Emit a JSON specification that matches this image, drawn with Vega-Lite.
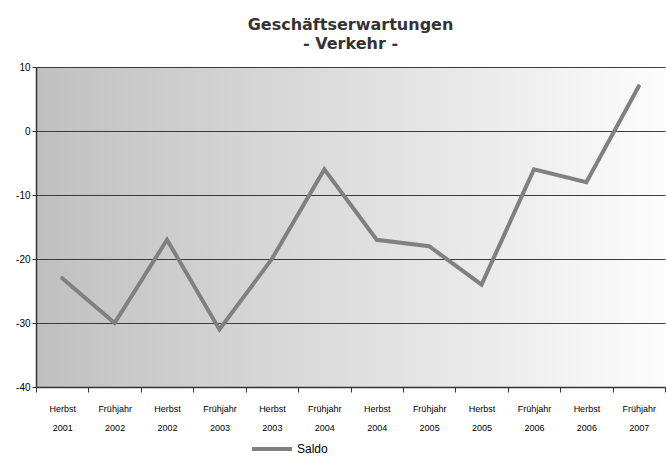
{
  "$schema": "https://vega.github.io/schema/vega-lite/v6.json",
  "width": 629,
  "height": 320,
  "autosize": "none",
  "padding": {"left": 36, "top": 67, "right": 1, "bottom": 77},
  "background": "white",
  "title": {
    "text": ["Geschäftserwartungen", "- Verkehr -"],
    "font": "DejaVu Sans",
    "fontSize": 16,
    "fontWeight": "bold",
    "color": "#333333",
    "anchor": "middle",
    "lineHeight": 19,
    "offset": 10
  },
  "data": {
    "values": [
      {"periode": "Herbst 2001", "saldo": -23, "serie": "Saldo"},
      {"periode": "Frühjahr 2002", "saldo": -30, "serie": "Saldo"},
      {"periode": "Herbst 2002", "saldo": -17, "serie": "Saldo"},
      {"periode": "Frühjahr 2003", "saldo": -31, "serie": "Saldo"},
      {"periode": "Herbst 2003", "saldo": -20, "serie": "Saldo"},
      {"periode": "Frühjahr 2004", "saldo": -6, "serie": "Saldo"},
      {"periode": "Herbst 2004", "saldo": -17, "serie": "Saldo"},
      {"periode": "Frühjahr 2005", "saldo": -18, "serie": "Saldo"},
      {"periode": "Herbst 2005", "saldo": -24, "serie": "Saldo"},
      {"periode": "Frühjahr 2006", "saldo": -6, "serie": "Saldo"},
      {"periode": "Herbst 2006", "saldo": -8, "serie": "Saldo"},
      {"periode": "Frühjahr 2007", "saldo": 7, "serie": "Saldo"}
    ]
  },
  "mark": {"type": "line", "strokeWidth": 4, "strokeCap": "round", "strokeJoin": "miter"},
  "encoding": {
    "x": {
      "field": "periode",
      "type": "nominal",
      "sort": null,
      "scale": {"type": "band", "paddingInner": 0, "paddingOuter": 0},
      "axis": {
        "title": null,
        "labelAngle": 0,
        "labelExpr": "split(datum.label, ' ')",
        "labelLineHeight": 19,
        "labelFont": "Liberation Sans",
        "labelFontSize": 9,
        "labelColor": "#000000",
        "labelPadding": 12,
        "tickBand": "extent",
        "tickSize": 5,
        "tickColor": "#333333",
        "domainColor": "#333333",
        "domainWidth": 1.5,
        "grid": false
      }
    },
    "y": {
      "field": "saldo",
      "type": "quantitative",
      "scale": {"domain": [-40, 10], "nice": false, "zero": false},
      "axis": {
        "title": null,
        "values": [-40, -30, -20, -10, 0, 10],
        "labelExpr": "'' + datum.value",
        "labelFont": "Liberation Sans",
        "labelFontSize": 10,
        "labelColor": "#000000",
        "labelPadding": 2,
        "tickSize": 4,
        "tickColor": "#333333",
        "domainColor": "#333333",
        "domainWidth": 1.5,
        "grid": true,
        "gridColor": "#3a3a3a",
        "gridWidth": 1
      }
    },
    "color": {
      "field": "serie",
      "type": "nominal",
      "scale": {"range": ["#808080"]},
      "legend": {
        "title": null,
        "orient": "none",
        "legendX": 214,
        "legendY": 360,
        "direction": "horizontal",
        "symbolType": "stroke",
        "symbolStrokeWidth": 4,
        "symbolSize": 1600,
        "labelOffset": 3,
        "labelFont": "Liberation Sans",
        "labelFontSize": 12,
        "labelColor": "#000000"
      }
    }
  },
  "config": {
    "view": {
      "stroke": null,
      "fill": {
        "gradient": "linear",
        "x1": 0, "y1": 0, "x2": 1, "y2": 0,
        "stops": [
          {"offset": 0, "color": "#c0c0c0"},
          {"offset": 1, "color": "#fcfcfc"}
        ]
      }
    }
  }
}
